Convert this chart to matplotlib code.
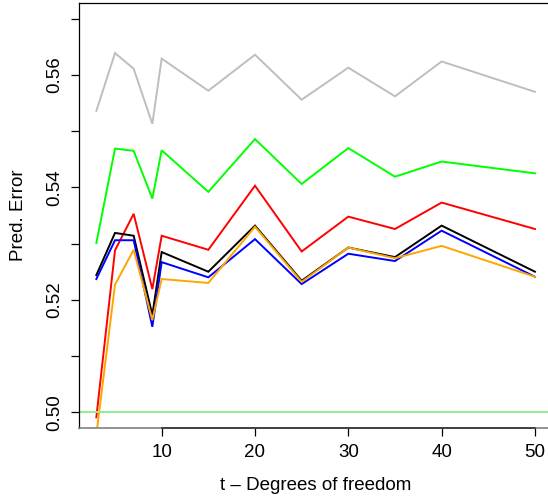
import matplotlib
matplotlib.use("Agg")
import matplotlib.pyplot as plt
import numpy as np

plt.rcParams['font.family'] = ['Liberation Sans', 'DejaVu Sans']

df = [3, 5, 7, 9, 10, 15, 20, 25, 30, 35, 40, 50]
err_gray = [0.5536, 0.5639, 0.5611, 0.5513, 0.5629, 0.5572, 0.5636, 0.5556, 0.5613, 0.5562, 0.5624, 0.5570]
err_green = [0.5301, 0.5469, 0.5465, 0.5380, 0.5466, 0.5392, 0.5486, 0.5406, 0.5470, 0.5419, 0.5446, 0.5425]
err_red = [0.4991, 0.5288, 0.5353, 0.5219, 0.5314, 0.5289, 0.5403, 0.5286, 0.5348, 0.5326, 0.5373, 0.5326]
err_black = [0.5244, 0.5319, 0.5314, 0.5173, 0.5285, 0.5250, 0.5332, 0.5234, 0.5293, 0.5276, 0.5332, 0.5250]
err_blue = [0.5237, 0.5306, 0.5306, 0.5152, 0.5267, 0.5240, 0.5308, 0.5228, 0.5282, 0.5269, 0.5323, 0.5241]
err_orange = [0.4960, 0.5227, 0.5289, 0.5164, 0.5237, 0.5230, 0.5330, 0.5232, 0.5293, 0.5274, 0.5296, 0.5241]
ref_level = 0.50
x_ticks = [10, 20, 30, 40, 50]
y_ticks = [0.50, 0.51, 0.52, 0.53, 0.54, 0.55, 0.56, 0.57]
y_labels = ['0.50', '', '0.52', '', '0.54', '', '0.56', '']

series = [
    (err_gray, '#BEBEBE'),
    (err_green, '#00FF00'),
    (err_red, '#FF0000'),
    (err_black, '#000000'),
    (err_blue, '#0000FF'),
    (err_orange, '#FFA500'),
]

fig = plt.figure(figsize=(5.48, 5.0), dpi=100)
ax = fig.add_axes([78.8/548, 72/500, 473.7/548, 425/500])

for vals, col in series:
    ax.plot(df, vals, color=col, lw=1.4, solid_joinstyle='miter')
ax.axhline(ref_level, color='#90EE90', lw=1.4)

ax.set_xlim(1.12, 51.88)
ax.set_ylim(0.4972, 0.5728)

ax.set_xticks(x_ticks)
ax.set_yticks(y_ticks)
ax.set_yticklabels(y_labels)

ax.tick_params(axis='both', direction='out', length=5.8, width=0.9, pad=5.5,
               labelsize=13.5, color='black')
plt.setp(ax.get_yticklabels(), rotation=90, va='center', ha='right')

for s in ax.spines.values():
    s.set_linewidth(0.9)
    s.set_color('black')
ax.spines['right'].set_visible(False)
ax.spines['bottom'].set_color('#808080')
ax.spines['bottom'].set_linewidth(1.2)
# R-style axis line between first and last tick
ax.plot([x_ticks[0], x_ticks[-1]], [0, 0], transform=ax.get_xaxis_transform(),
        color='#333333', lw=1.2, clip_on=False, zorder=5)

ax.set_xlabel('t \u2013 Degrees of freedom', fontsize=13.5, va='center')
ax.xaxis.set_label_coords(0.5, -58/425)
ax.set_ylabel('Pred. Error', fontsize=13.5, va='center', ha='center')
ax.yaxis.set_label_coords((19-78.8)/473.7, 0.5)

fig.savefig('out.png', dpi=100)
